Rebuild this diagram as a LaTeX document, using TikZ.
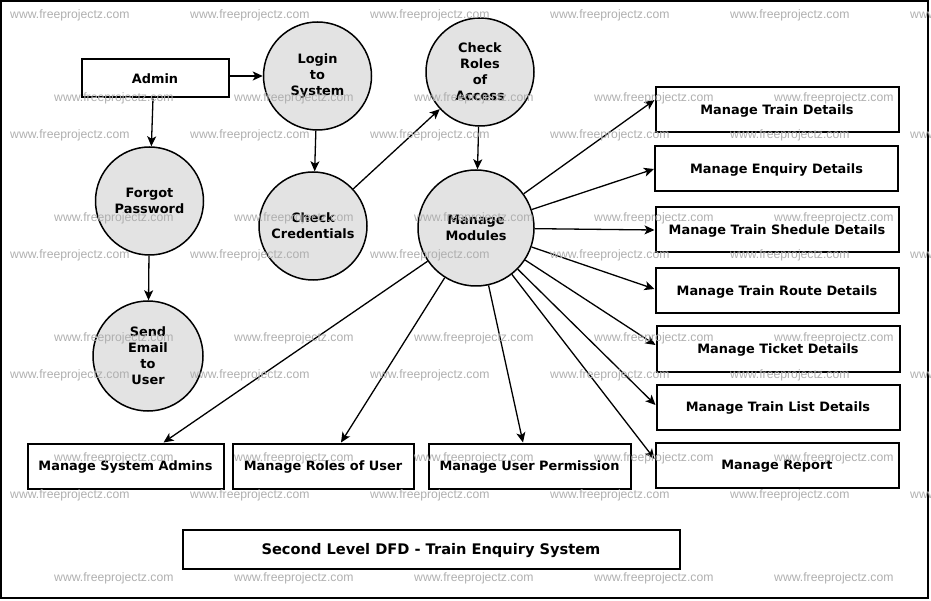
\documentclass[tikz,border=0pt]{standalone}
\usepackage{fontspec}
\newfontfamily\dv{DejaVu Sans}
\newfontfamily\lib{Liberation Sans}
\usetikzlibrary{arrows.meta,calc}
\definecolor{cfill}{RGB}{227,227,227}
\definecolor{wm}{RGB}{175,175,175}
\begin{document}
\begin{tikzpicture}[x=1pt,y=-1pt,
  proc/.style={circle,draw=black,line width=1.5pt,fill=cfill,minimum size=108pt,inner sep=0pt,align=center,font=\dv\bfseries\fontsize{12.9}{16}\selectfont},
  ent/.style={rectangle,draw=black,line width=2pt,fill=white,inner sep=0pt,align=center,text depth=0pt,font=\dv\bfseries\fontsize{12.9}{15}\selectfont},
  rbox/.style={ent,minimum width=243pt,minimum height=45pt},
  bbox/.style={ent,minimum height=45pt},
  arr/.style={line width=1.3pt,-{Stealth[length=10pt,width=9pt,inset=2.5pt]}},
  wmk/.style={font=\lib\fontsize{12.2}{14}\selectfont,text=wm,anchor=west,inner sep=0pt}
]
\useasboundingbox (0,0) rectangle (931,601);
\draw[line width=2pt] (1,1) rectangle (928,598);

% entities and processes
\node[ent,minimum width=147pt,minimum height=38pt] (admin) at (155,78.5) {Admin};
\node[proc] (login) at (317.5,76) {Login\\to\\System};
\node[proc] (forgot) at (149.5,201) {Forgot\\Password};
\node[proc,minimum size=110pt] (send) at (148,356) {Send\\Email\\to\\User};
\node[proc] (cred) at (313,226) {Check\\Credentials};
\node[proc] (roles) at (480,72) {Check\\Roles\\of\\Access};
\node[proc,minimum size=116pt] (mm) at (476,228) {Manage\\Modules};

\node[rbox] (trd) at (777,110) {Manage Train Details};
\node[rbox] (enq) at (776.5,169) {Manage Enquiry Details};
\node[rbox] (shd) at (777,230) {Manage Train Shedule Details};
\node[rbox] (rte) at (777,291) {Manage Train Route Details};
\node[rbox] (tkt) at (778,349) {Manage Ticket Details};
\node[rbox] (lst) at (778,407) {Manage Train List Details};
\node[rbox] (rpt) at (777,465) {Manage Report};

\node[bbox,minimum width=196pt] (msa) at (125.5,466) {Manage System Admins};
\node[bbox,minimum width=181pt] (mru) at (323,466) {Manage Roles of User};
\node[bbox,minimum width=202pt] (mup) at (529.5,466) {Manage User Permission};

\node[ent,minimum width=497pt,minimum height=39pt,font=\dv\bfseries\fontsize{14.6}{16}\selectfont] (title) at (431,549) {Second Level DFD - Train Enquiry System};

% connectors
\draw[arr] (admin.east |- login) -- (login);
\draw[arr] ($(admin.south)+(-2,0)$) -- (forgot);
\draw[arr] (forgot) -- (send);
\draw[arr] (login) -- (cred);
\draw[arr] (cred) -- (roles);
\draw[arr] (roles) -- (mm);

\draw[arr] (mm) -- ([yshift=10pt]trd.west);
\draw[arr] (mm) -- (enq.west);
\draw[arr] (mm) -- (shd.west);
\draw[arr] (mm) -- ([yshift=2pt]rte.west);
\draw[arr] (mm) -- ([yshift=4pt]tkt.west);
\draw[arr] (mm) -- ([yshift=2pt]lst.west);
\draw[arr] (mm) -- ([yshift=6pt]rpt.west);

\draw[arr] (mm) -- ([xshift=38pt]msa.north);
\draw[arr] (mm) -- ([xshift=18pt]mru.north);
\draw[arr] (mm) -- ([xshift=-6.5pt]mup.north);

% watermark
\foreach \y in {15,135,255,375,495}
  \foreach \x in {10,190,370,550,730,910}
    \node[wmk] (wa-\x-\y) at (\x,\y) {www.freeprojectz.com};
\foreach \y in {98,218,338,458,578}
  \foreach \x in {54,234,414,594,774}
    \node[wmk] (wb-\x-\y) at (\x,\y) {www.freeprojectz.com};
\end{tikzpicture}
\end{document}
